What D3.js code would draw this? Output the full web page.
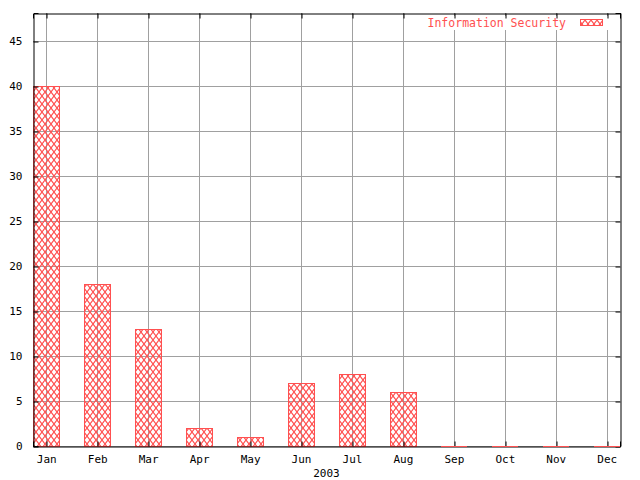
<!DOCTYPE html>
<html><head><meta charset="utf-8">
<script src="https://cdn.jsdelivr.net/npm/d3@7"></script>
<style>body{margin:0;background:#fff}svg{display:block}text{font-family:"DejaVu Sans Mono",monospace;font-size:11px}</style>
</head><body>
<script>
const months = ["Jan","Feb","Mar","Apr","May","Jun","Jul","Aug","Sep","Oct","Nov","Dec"];
const values = [40,18,13,2,1,7,8,6,0,0,0,0];
const yTicks = [0,5,10,15,20,25,30,35,40,45];
const seriesName = "Information Security";
const xLabel = "2003";

const W=640,H=480, L=33, R=620, T=13, B=446;
const red="#ff5050", grid="#a0a0a0";
const svg=d3.select("body").append("svg").attr("width",W).attr("height",H);
const defs=svg.append("defs");
const pat=defs.append("pattern").attr("id","hatch").attr("patternUnits","userSpaceOnUse").attr("width",6).attr("height",8);
pat.append("path").attr("d","M0,0L6,8M6,0L0,8").attr("stroke",red).attr("stroke-width",1.2).attr("fill","none");

const x=d3.scaleLinear().domain([-0.26,11.26]).range([L,R]);
const y=d3.scaleLinear().domain([0,48.1]).range([B,T]);
const bw = x(0.255)-x(-0.255);

// grid
svg.append("g").selectAll("line").data(months).join("line")
  .attr("x1",(d,i)=>Math.round(x(i))+0.5).attr("x2",(d,i)=>Math.round(x(i))+0.5).attr("y1",T).attr("y2",B)
  .attr("stroke",grid).attr("stroke-width",1);
svg.append("g").selectAll("line").data(yTicks).join("line")
  .attr("x1",L).attr("x2",R).attr("y1",d=>Math.round(y(d))+0.5).attr("y2",d=>Math.round(y(d))+0.5)
  .attr("stroke",grid).attr("stroke-width",1);

// legend background clearing grid
svg.append("rect").attr("x",420).attr("y",16).attr("width",190).attr("height",14).attr("fill","#fff");

// bars
svg.append("g").selectAll("rect").data(values).join("rect")
  .attr("x",(d,i)=>Math.round(x(i)-bw/2)+0.5).attr("width",Math.round(bw))
  .attr("y",d=>Math.round(y(d))+0.5).attr("height",d=>Math.round(y(0))-Math.round(y(d)))
  .attr("fill","url(#hatch)").attr("stroke",red).attr("stroke-width",1);

// axes
const gx=svg.append("g").attr("transform",`translate(0,${B+0.5})`)
  .call(d3.axisBottom(x).tickValues(d3.range(12)).tickFormat(i=>months[i]).tickSize(-5).tickPadding(9));
const gy=svg.append("g").attr("transform",`translate(${L+0.5},0)`)
  .call(d3.axisLeft(y).tickValues(yTicks).tickSize(-5).tickPadding(11));
const gt=svg.append("g").attr("transform",`translate(0,${T+0.5})`)
  .call(d3.axisTop(x).tickValues(d3.range(12)).tickFormat("").tickSize(-5));
const gr=svg.append("g").attr("transform",`translate(${R+0.5},0)`)
  .call(d3.axisRight(y).tickValues(yTicks).tickFormat("").tickSize(-5));
[gx,gy,gt,gr].forEach(g=>{
  g.select(".domain").attr("stroke","#000").attr("stroke-width",1);
  g.selectAll(".tick line").attr("stroke","#000").attr("stroke-width",1);
  g.selectAll("text").attr("fill","#000").style("font-family","DejaVu Sans Mono,monospace").style("font-size","11px");
});
gy.selectAll(".tick line").attr("transform",d=>`translate(0,${Math.round(y(d))+0.5-y(d)})`);
gr.selectAll(".tick line").attr("transform",d=>`translate(0,${Math.round(y(d))+0.5-y(d)})`);
gx.selectAll(".tick line").attr("transform",d=>`translate(${Math.round(x(d))+0.5-x(d)},0)`);
gt.selectAll(".tick line").attr("transform",d=>`translate(${Math.round(x(d))+0.5-x(d)},0)`);
// zero bars drawn as red line on axis
svg.append("g").selectAll("line").data(values.map((v,i)=>[v,i]).filter(d=>d[0]===0)).join("line")
  .attr("x1",d=>Math.round(x(d[1])-bw/2)).attr("x2",d=>Math.round(x(d[1])+bw/2))
  .attr("y1",B+0.5).attr("y2",B+0.5).attr("stroke",red).attr("stroke-width",1);

svg.append("text").attr("x",x(5.5)).attr("y",477).attr("text-anchor","middle").text(xLabel);

// legend
svg.append("text").attr("x",566).attr("y",27).attr("text-anchor","end").attr("fill",red)
  .style("font-size","11.5px").text(seriesName);
svg.append("rect").attr("x",580.5).attr("y",19.5).attr("width",22).attr("height",6)
  .attr("fill","url(#hatch)").attr("stroke",red).attr("stroke-width",1);
</script>
</body></html>
